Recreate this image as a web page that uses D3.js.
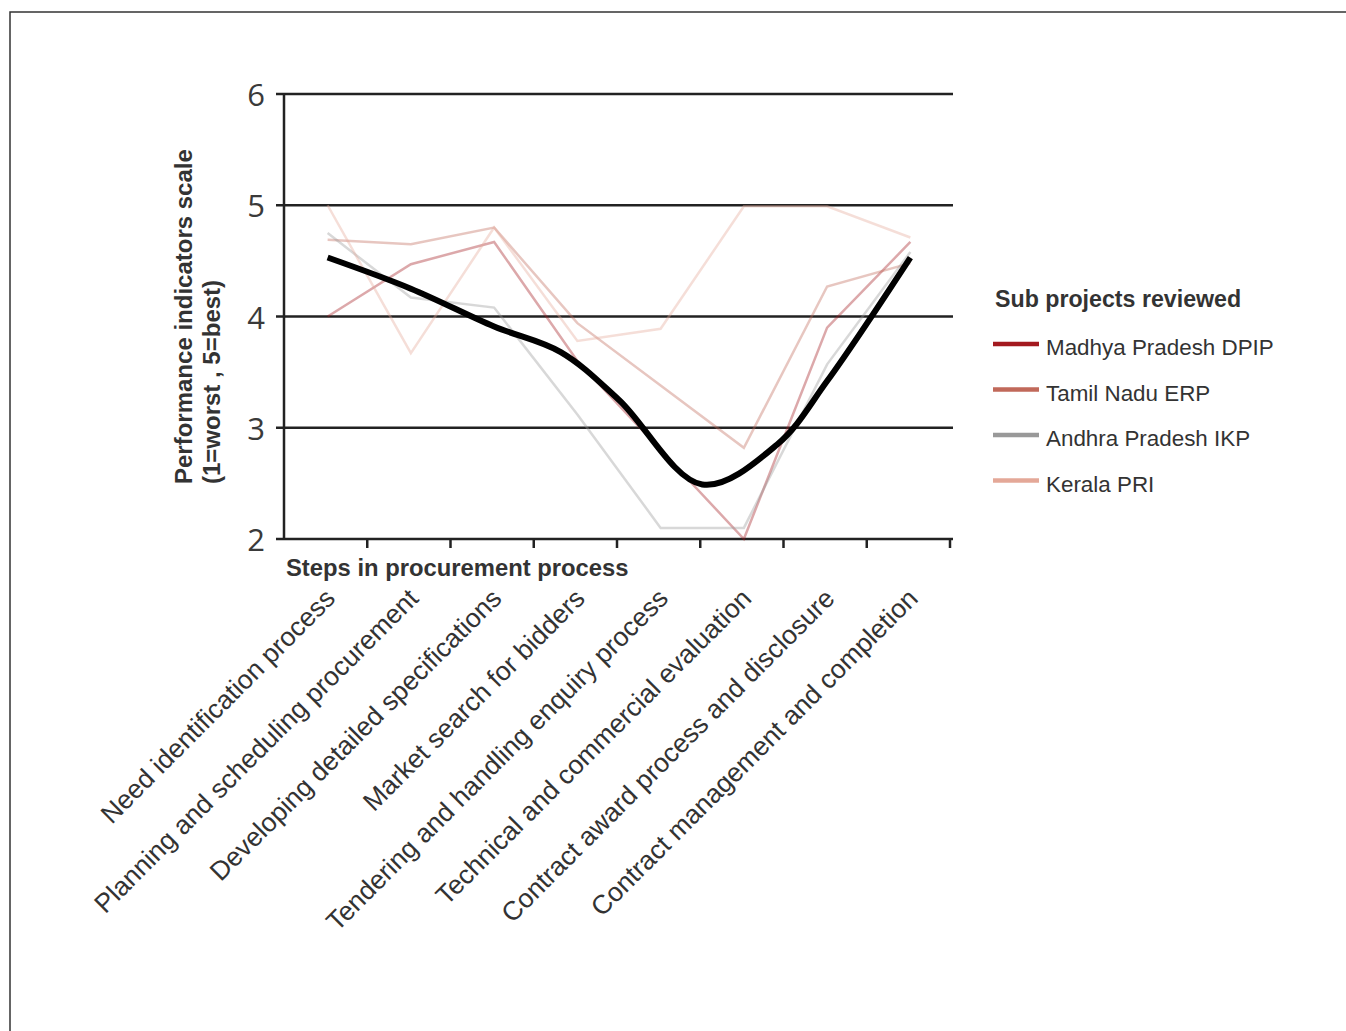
<!DOCTYPE html>
<html><head><meta charset="utf-8">
<script src="https://cdn.jsdelivr.net/npm/d3@7"></script>
<style>
body{margin:0;background:#fff;}
svg{display:block;}
</style></head>
<body>
<svg id="chart" width="1346" height="1031"></svg>
<script>
const categories = [
  "Need identification process",
  "Planning and scheduling procurement",
  "Developing detailed specifications",
  "Market search for bidders",
  "Tendering and handling enquiry process",
  "Technical and commercial evaluation",
  "Contract award process and disclosure",
  "Contract management and completion"
];
const seriesNames = ["Madhya Pradesh DPIP", "Tamil Nadu ERP", "Andhra Pradesh IKP", "Kerala PRI"];
const seriesColors = ["#a3191f", "#c1695a", "#999999", "#e4a898"];
const dpipValues   = [4.00, 4.47, 4.67, 3.60, 2.80, 2.00, 3.90, 4.67];
const erpValues    = [4.69, 4.65, 4.80, 3.94, 3.38, 2.82, 4.27, 4.48];
const ikpValues    = [4.75, 4.17, 4.08, 3.12, 2.10, 2.10, 3.57, 4.58];
const keralaValues = [5.00, 3.67, 4.80, 3.78, 3.89, 4.99, 4.99, 4.71];
// overall trend line (position along category index, value)
const trendIndex  = [0, 1, 2, 2.8, 3.5, 4.5, 5.4, 6, 7];
const trendValues = [4.53, 4.25, 3.91, 3.68, 3.25, 2.49, 2.85, 3.42, 4.53];
const yTicks = [2, 3, 4, 5, 6];

const allSeries = [dpipValues, erpValues, ikpValues, keralaValues];

const svg = d3.select("#chart");
const txt = "#333333";
const sans = "'Liberation Sans', Arial, sans-serif";

// outer frame
svg.append("path").attr("d", "M10,1031 L10,12 L1346,12")
  .attr("fill", "none").attr("stroke", "#333").attr("stroke-width", 1.5);

const y = d3.scaleLinear().domain([2, 6]).range([539, 94]);
const x = d3.scaleBand().domain(categories).range([286, 952]).paddingInner(0).paddingOuter(0);
const bw = x.bandwidth();
const cx = c => x(c) + bw / 2;
const xi = d3.scaleLinear().domain([0, categories.length - 1])
  .range([cx(categories[0]), cx(categories[categories.length - 1])]);

const axisX0 = 284, axisX1 = 953;

// gridlines
svg.append("g").selectAll("line").data(yTicks).join("line")
  .attr("x1", axisX0 - 8).attr("x2", axisX1)
  .attr("y1", d => y(d)).attr("y2", d => y(d))
  .attr("stroke", "#222").attr("stroke-width", 2.5);

// y axis line
svg.append("line").attr("x1", axisX0).attr("x2", axisX0)
  .attr("y1", y(6) - 1).attr("y2", y(2) + 1)
  .attr("stroke", "#222").attr("stroke-width", 2.5);

// y tick labels
svg.append("g").selectAll("text").data(yTicks).join("text")
  .attr("x", 265).attr("y", d => y(d) + 12)
  .attr("text-anchor", "end")
  .attr("font-family", "'Open Sans', sans-serif").attr("font-size", 31)
  .attr("fill", "#3a3a3a").text(d => d);

// x ticks at band edges
const edges = categories.map(c => x(c)).concat([x(categories[categories.length - 1]) + bw]);
svg.append("g").selectAll("line").data(edges.slice(1)).join("line")
  .attr("x1", d => d - 2).attr("x2", d => d - 2)
  .attr("y1", y(2)).attr("y2", y(2) + 9)
  .attr("stroke", "#222").attr("stroke-width", 2.5);

// series lines
const line = d3.line().x((d, i) => cx(categories[i])).y(d => y(d));
svg.append("g").selectAll("path").data(allSeries).join("path")
  .attr("d", d => line(d))
  .attr("fill", "none")
  .attr("stroke", (d, i) => seriesColors[i])
  .attr("stroke-opacity", 0.38)
  .attr("stroke-width", 2.5)
  .attr("stroke-linejoin", "miter");

// trend line
const trend = d3.line().x((d, i) => xi(trendIndex[i])).y(d => y(d)).curve(d3.curveCatmullRom.alpha(0.5));
svg.append("path").attr("d", trend(trendValues))
  .attr("fill", "none").attr("stroke", "#000").attr("stroke-width", 6);

// x tick labels
svg.append("g").selectAll("text").data(categories).join("text")
  .attr("transform", c => `translate(${cx(c) + 9},${600}) rotate(-45)`)
  .attr("text-anchor", "end")
  .attr("font-family", sans).attr("font-size", 26.5)
  .attr("fill", txt).text(c => c);

// x axis title
svg.append("text").attr("x", 286).attr("y", 576)
  .attr("font-family", sans).attr("font-size", 23.8)
  .attr("font-weight", "bold").attr("fill", txt).text("Steps in procurement process");

// y axis title
const yt = svg.append("text").attr("transform", "translate(192,484) rotate(-90)")
  .attr("font-family", sans).attr("font-size", 24)
  .attr("font-weight", "bold").attr("fill", txt);
yt.append("tspan").attr("x", 0).attr("y", 0).text("Performance indicators scale");
yt.append("tspan").attr("x", 0).attr("y", 28).text("(1=worst , 5=best)");

// legend
svg.append("text").attr("x", 995).attr("y", 307)
  .attr("font-family", sans).attr("font-size", 23.2)
  .attr("font-weight", "bold").attr("fill", txt).text("Sub projects reviewed");
const lg = svg.append("g").selectAll("g").data(seriesNames).join("g")
  .attr("transform", (d, i) => `translate(993,${344 + i * 45.5})`);
lg.append("line").attr("x1", 0).attr("x2", 46).attr("y1", 0).attr("y2", 0)
  .attr("stroke", (d, i) => seriesColors[i]).attr("stroke-width", 4.5);
lg.append("text").attr("x", 53).attr("y", 11)
  .attr("font-family", sans).attr("font-size", 22.4)
  .attr("fill", txt).text(d => d);
</script>
</body></html>
